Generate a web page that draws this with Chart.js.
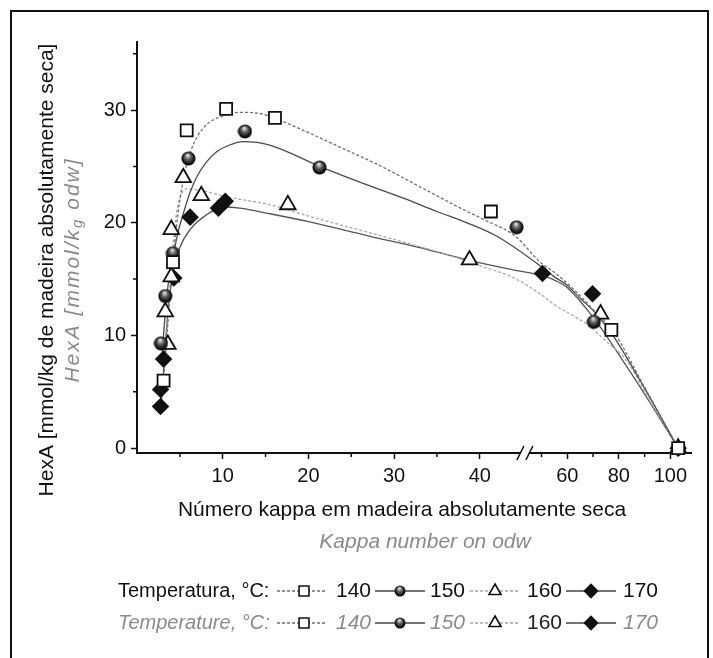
<!DOCTYPE html>
<html>
<head>
<meta charset="utf-8">
<script src="https://cdn.jsdelivr.net/npm/chart.js@4.4.1/dist/chart.umd.min.js"></script>
<style>
  body { margin: 0; background: #fff; }
  canvas { display: block; }
</style>
</head>
<body>
<canvas id="hexaChart" width="713" height="658"></canvas>
<script>
// measured points: kappa number (odw) vs HexA (mmol/kg odw)
const kappa140 = [3.1, 4.2, 5.8, 10.4, 16.1, 41.3, 77.1, 103];
const hexa140 = [6.0, 16.5, 28.2, 30.1, 29.3, 21.0, 10.5, 0];
const kappa150 = [2.8, 3.3, 4.2, 6.0, 12.6, 21.3, 44.3, 70.3, 103];
const hexa150 = [9.3, 13.5, 17.3, 25.7, 28.1, 24.9, 19.6, 11.2, 0];
const kappa160 = [3.6, 3.3, 4.0, 4.0, 5.4, 7.5, 17.6, 38.8, 72.9, 103];
const hexa160 = [9.2, 12.1, 15.2, 19.4, 24.0, 22.4, 21.6, 16.7, 11.9, 0];
const kappa170 = [2.75, 2.75, 3.1, 4.3, 6.2, 9.5, 10.3, 50.4, 69.8, 103];
const hexa170 = [3.7, 5.2, 7.9, 15.1, 20.5, 21.3, 21.9, 15.5, 13.7, 0];

// fitted curves
const fit140X = [3.0, 3.5, 4.0, 4.5, 5.0, 5.5, 6.2, 7.0, 8.1, 10.1, 12.0, 14.3, 16.0, 20.0, 24.0, 28.0, 33.0, 38.0, 41.0, 44.0, 50, 55, 62, 70, 78, 90, 103];
const fit140Y = [5.0, 10.0, 15.0, 19.0, 22.0, 24.2, 26.2, 27.6, 28.7, 29.5, 29.8, 29.7, 29.3, 28.0, 26.6, 25.2, 23.2, 21.2, 20.1, 18.9, 16.4, 15.6, 14.2, 12.3, 10.3, 5.4, 0];
const fit150X = [2.9, 3.3, 3.8, 4.2, 4.8, 5.4, 6.2, 7.0, 8.0, 9.3, 10.8, 12.4, 15.5, 21.3, 26.0, 31.0, 35.0, 38.8, 42.0, 50, 55, 59.7, 65, 71.3, 78, 90, 103];
const fit150Y = [8.0, 12.0, 15.5, 17.0, 19.2, 20.8, 22.7, 24.1, 25.3, 26.3, 26.9, 27.2, 26.9, 25.0, 23.6, 22.2, 21.0, 19.9, 18.8, 16.1, 15.2, 14.5, 13.3, 11.9, 9.9, 5.3, 0];
const fit160X = [3.3, 3.6, 3.9, 4.2, 4.6, 5.1, 5.8, 7.3, 10.5, 15.5, 20.0, 27.2, 32.0, 36.9, 40.0, 44.0, 50, 55.8, 62, 68.7, 75, 82.9, 92, 103];
const fit160Y = [8.5, 12.0, 15.0, 18.0, 20.8, 22.4, 23.0, 22.9, 22.3, 21.6, 20.6, 19.1, 18.1, 17.0, 16.2, 15.1, 13.6, 12.6, 11.8, 10.8, 9.5, 7.8, 4.2, 0];
const fit170X = [2.85, 3.2, 3.6, 4.2, 5.0, 6.2, 8.1, 10.1, 12.0, 15.5, 20.0, 27.2, 33.0, 38.5, 44.0, 50.4, 56, 59.7, 64, 68, 72, 80, 90, 103];
const fit170Y = [4.0, 8.0, 12.0, 15.5, 17.8, 19.4, 20.7, 21.4, 21.3, 20.8, 20.1, 18.8, 17.8, 16.7, 15.8, 15.3, 14.8, 14.3, 13.3, 12.2, 11.0, 8.3, 4.8, 0];

const xTicks = [5, 10, 15, 20, 25, 30, 35, 40, 50, 60, 70, 80, 90, 100];
const xTickLabels = ['', '10', '', '20', '', '30', '', '40', '', '60', '', '80', '', '100'];
const yTicks = [0, 5, 10, 15, 20, 25, 30, 35];
const yTickLabels = ['0', '', '10', '', '20', '', '30', ''];

// broken x axis: 0-45 linear, then 50-100 compressed
function toDisplay(v) {
  if (v <= 45) return v;
  if (v < 50) return 45 + (v - 45) * 0.44;
  return 47.2 + (v - 50) * 0.301;
}

const pts = (xs, ys) => xs.map((x, i) => ({ x: toDisplay(x), y: ys[i] }));

function makeSphere(d) {
  const c = document.createElement('canvas');
  c.width = d; c.height = d;
  const g = c.getContext('2d');
  const r = d / 2;
  const grad = g.createRadialGradient(r * 0.9, r * 0.55, r * 0.08, r, r, r);
  grad.addColorStop(0, '#e0e0e0');
  grad.addColorStop(0.35, '#666');
  grad.addColorStop(0.75, '#151515');
  grad.addColorStop(1, '#000');
  g.fillStyle = grad;
  g.beginPath();
  g.arc(r, r, r - 0.5, 0, Math.PI * 2);
  g.fill();
  return c;
}
const sphere = makeSphere(15);
const sphereSmall = makeSphere(12);

const FONT = "'Liberation Sans', Arial, sans-serif";

const fitStyle = (data, color, dash) => ({
  data: data,
  borderColor: color,
  borderWidth: 1.3,
  borderDash: dash,
  pointRadius: 0,
  cubicInterpolationMode: 'monotone',
  fill: false,
  clip: false,
  order: 2
});
const markStyle = (data, style, radius, fillColor) => ({
  data: data,
  showLine: false,
  pointStyle: style,
  pointRadius: radius,
  pointBackgroundColor: fillColor,
  pointBorderColor: '#111',
  pointBorderWidth: 1.8,
  clip: false,
  order: 1
});

const decor = {
  id: 'decor',
  afterDraw(chart) {
    const ctx = chart.ctx;
    const x = chart.scales.x, y = chart.scales.y;
    const area = chart.chartArea;
    ctx.save();

    // frame
    ctx.strokeStyle = '#111';
    ctx.lineWidth = 2;
    ctx.beginPath();
    ctx.moveTo(11, 700); ctx.lineTo(11, 11); ctx.lineTo(708, 11); ctx.lineTo(708, 700);
    ctx.stroke();

    // minor ticks
    ctx.lineWidth = 1.5;
    ctx.beginPath();
    xTicks.forEach((v, i) => {
      if (xTickLabels[i]) return;
      const px = x.getPixelForValue(toDisplay(v));
      ctx.moveTo(px, area.bottom); ctx.lineTo(px, area.bottom + 4);
    });
    yTicks.forEach((v, i) => {
      if (yTickLabels[i]) return;
      const py = y.getPixelForValue(v);
      ctx.moveTo(area.left, py); ctx.lineTo(area.left - 4, py);
    });
    ctx.stroke();

    // axis break
    const bx = x.getPixelForValue(toDisplay(45.6));
    ctx.fillStyle = '#fff';
    ctx.fillRect(bx - 4, area.bottom - 2, 8, 4);
    ctx.lineWidth = 1.6;
    ctx.beginPath();
    ctx.moveTo(bx - 8, area.bottom + 7); ctx.lineTo(bx - 1, area.bottom - 7);
    ctx.moveTo(bx + 1, area.bottom + 7); ctx.lineTo(bx + 8, area.bottom - 7);
    ctx.stroke();

    // axis titles
    ctx.textBaseline = 'middle';
    ctx.textAlign = 'center';
    ctx.fillStyle = '#111';
    ctx.font = '21px ' + FONT;
    ctx.fillText('Número kappa em madeira absolutamente seca', 402, 510);
    ctx.fillStyle = '#8a8a8a';
    ctx.font = 'italic 21px ' + FONT;
    ctx.fillText('Kappa number on odw', 425, 542);

    ctx.save();
    ctx.translate(47, 270);
    ctx.rotate(-Math.PI / 2);
    ctx.fillStyle = '#111';
    ctx.font = '21px ' + FONT;
    ctx.fillText('HexA [mmol/kg de madeira absolutamente seca]', 0, 0);
    ctx.restore();

    ctx.save();
    ctx.translate(73, 270);
    ctx.rotate(-Math.PI / 2);
    ctx.fillStyle = '#8a8a8a';
    ctx.textAlign = 'left';
    ctx.letterSpacing = '2px';
    const a = 'HexA [mmol/k', b = 'g', c = ' odw]';
    ctx.font = 'italic 21px ' + FONT;
    const wa = ctx.measureText(a).width, wc = ctx.measureText(c).width;
    ctx.font = 'italic 15px ' + FONT;
    const wb = ctx.measureText(b).width;
    let sx = -(wa + wb + wc) / 2;
    ctx.font = 'italic 21px ' + FONT;
    ctx.fillText(a, sx, 0);
    ctx.font = 'italic 15px ' + FONT;
    ctx.fillText(b, sx + wa, 5);
    ctx.font = 'italic 21px ' + FONT;
    ctx.fillText(c, sx + wa + wb, 0);
    ctx.restore();

    // legend
    const rows = [
      { y: 591, head: 'Temperatura, °C:', headStyle: '', color: '#111', lab: ['140', '150', '160', '170'], labStyle: ['', '', '', ''], labColor: ['#111', '#111', '#111', '#111'] },
      { y: 623, head: 'Temperature, °C:', headStyle: 'italic ', color: '#8a8a8a', lab: ['140', '150', '160', '170'], labStyle: ['italic ', 'italic ', '', 'italic '], labColor: ['#8a8a8a', '#8a8a8a', '#222', '#8a8a8a'] }
    ];
    const items = [
      { x0: 277, x1: 327, mx: 304, tx: 336, line: '#6e6e6e', dash: [3, 2], style: 'rect', r: 7, fill: '#fff' },
      { x0: 375, x1: 425, mx: 400, tx: 430, line: '#444', dash: [], style: sphereSmall, r: 6, fill: '#111' },
      { x0: 470, x1: 520, mx: 495, tx: 527, line: '#a8a8a8', dash: [3, 2], style: 'triangle', r: 7, fill: '#fff' },
      { x0: 566, x1: 616, mx: 591, tx: 623, line: '#444', dash: [], style: 'rectRot', r: 6.5, fill: '#111' }
    ];
    ctx.textAlign = 'left';
    rows.forEach(row => {
      ctx.font = row.headStyle + '20px ' + FONT;
      ctx.fillStyle = row.color;
      ctx.fillText(row.head, 118, row.y);
      items.forEach((it, i) => {
        ctx.strokeStyle = it.line;
        ctx.lineWidth = 1.3;
        ctx.setLineDash(it.dash);
        ctx.beginPath();
        ctx.moveTo(it.x0, row.y); ctx.lineTo(it.x1, row.y);
        ctx.stroke();
        ctx.setLineDash([]);
        ctx.fillStyle = it.fill;
        ctx.strokeStyle = '#111';
        ctx.lineWidth = 1.6;
        Chart.helpers.drawPoint(ctx, { pointStyle: it.style, radius: it.r, rotation: 0, borderWidth: 1.6 }, it.mx, row.y);
        ctx.font = row.labStyle[i] + '21px ' + FONT;
        ctx.fillStyle = row.labColor[i];
        ctx.fillText(row.lab[i], it.tx, row.y);
      });
    });
    ctx.restore();
  }
};

new Chart(document.getElementById('hexaChart').getContext('2d'), {
  type: 'line',
  data: {
    datasets: [
      fitStyle(pts(fit140X, fit140Y), '#6e6e6e', [3, 2]),
      fitStyle(pts(fit150X, fit150Y), '#4a4a4a', []),
      fitStyle(pts(fit160X, fit160Y), '#a8a8a8', [3, 2]),
      fitStyle(pts(fit170X, fit170Y), '#555', []),
      markStyle(pts(kappa140, hexa140), 'rect', 8.5, '#fff'),
      markStyle(pts(kappa150, hexa150), sphere, 7.5, '#111'),
      markStyle(pts(kappa160, hexa160), 'triangle', 9, '#fff'),
      markStyle(pts(kappa170, hexa170), 'rectRot', 7.5, '#111')
    ]
  },
  options: {
    responsive: false,
    animation: false,
    layout: { padding: { top: 42, right: 22, left: 0, bottom: 0 } },
    plugins: { legend: { display: false }, tooltip: { enabled: false } },
    scales: {
      x: {
        type: 'linear',
        min: 0,
        max: 64.65,
        afterBuildTicks: (scale) => { scale.ticks = xTicks.map(v => ({ value: toDisplay(v) })); },
        afterFit: (scale) => { scale.height = 205; },
        ticks: {
          autoSkip: false,
          maxRotation: 0,
          padding: 5,
          color: '#111',
          font: { family: FONT, size: 20 },
          callback: (val, i) => xTickLabels[i]
        },
        grid: {
          drawOnChartArea: false,
          tickLength: 6,
          tickWidth: 1.5,
          tickColor: (c) => (xTickLabels[c.index] ? '#111' : 'rgba(0,0,0,0)')
        },
        border: { display: true, color: '#111', width: 2 }
      },
      y: {
        type: 'linear',
        min: -0.43,
        max: 36.04,
        afterBuildTicks: (scale) => { scale.ticks = yTicks.map(v => ({ value: v })); },
        afterFit: (scale) => { scale.width = 137; },
        ticks: {
          autoSkip: false,
          padding: 5,
          color: '#111',
          font: { family: FONT, size: 20 },
          callback: (val, i) => yTickLabels[i]
        },
        grid: {
          drawOnChartArea: false,
          tickLength: 6,
          tickWidth: 1.5,
          tickColor: (c) => (yTickLabels[c.index] ? '#111' : 'rgba(0,0,0,0)')
        },
        border: { display: true, color: '#111', width: 2 }
      }
    }
  },
  plugins: [decor]
});
</script>
</body>
</html>
